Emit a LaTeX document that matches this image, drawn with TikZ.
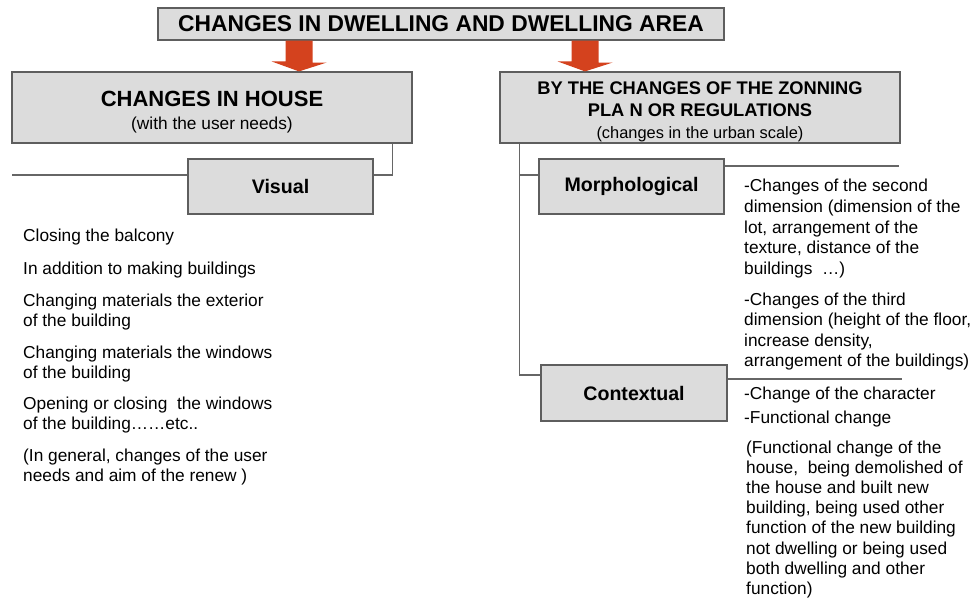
\documentclass[tikz,border=0pt]{standalone}
\usepackage{fontspec}
\setmainfont{Liberation Sans}
\usetikzlibrary{calc}
\definecolor{boxfill}{HTML}{DCDCDC}
\definecolor{boxline}{HTML}{5E5E5E}
\definecolor{arrowred}{HTML}{D4421E}
\definecolor{connline}{HTML}{666666}
\begin{document}
\begin{tikzpicture}[x=1pt,y=-1pt,
  box/.style={draw=boxline, line width=1.2pt, fill=boxfill, inner sep=0pt, align=center},
  conn/.style={draw=connline, line width=1.3pt},
  body/.style={anchor=base west, align=left, inner sep=0pt, font=\fontsize{17.3}{20.6}\selectfont},
  lbl/.style={font=\fontsize{19.6}{22}\selectfont\bfseries}]
\useasboundingbox[fill=white] (0,0) rectangle (973,609);

% boxes
\node[box, minimum width=566pt, minimum height=32pt, font=\fontsize{22.8}{24}\selectfont\bfseries] (title) at (441,24) {CHANGES IN DWELLING AND DWELLING AREA};
\node[box, minimum width=400pt, minimum height=71pt, font=\fontsize{17.3}{23}\selectfont] (house) at (212,107.5)
  {\rule{0pt}{25pt}{\fontsize{22}{23}\selectfont\bfseries CHANGES IN HOUSE}\\(with the user needs)};
\node[box, minimum width=400pt, minimum height=71pt, font=\fontsize{18.3}{22}\selectfont\bfseries] (zoning) at (700,107.5)
  {\rule{0pt}{21pt}BY THE CHANGES OF THE ZONNING\\PLA N OR REGULATIONS\\{\mdseries\fontsize{16.4}{22}\selectfont(changes in the urban scale)}};
\node[box, lbl, minimum width=185pt, minimum height=55pt] (visual) at (280.5,186.5) {Visual};
\node[box, lbl, minimum width=185pt, minimum height=55pt] (morph) at (631.5,186.5) {Morphological};
\node[box, lbl, minimum width=186pt, minimum height=56pt] (context) at (634,393) {Contextual};

% block arrows
\coordinate (la) at (299,0);
\coordinate (ra) at (585,0);
\fill[arrowred] (la |- title.south) ++(-13.5,0) -- ++(27,0) -- ++(0,22) -- ++(14,0)
  -- (la |- house.north) -- ++(-27.5,-10) -- ++(14,0) -- cycle;
\fill[arrowred] (ra |- title.south) ++(-13.5,0) -- ++(27,0) -- ++(0,22) -- ++(14,0)
  -- (ra |- zoning.north) -- ++(-27.5,-10) -- ++(14,0) -- cycle;

% connectors, left
\coordinate (vl) at (12,175);
\draw[conn] (vl) -- (vl -| visual.west);
\draw[conn] (visual.east |- vl) -| ([xshift=-20pt]house.south east);

% connectors, right
\coordinate (zv) at ([xshift=20pt]zoning.south west);
\draw[conn] (zv) |- ([yshift=18pt]context.west);
\draw[conn] (zv |- vl) -- ([yshift=11.5pt]morph.west);
\coordinate (me) at (899,166);
\draw[conn] (me -| morph.east) -- (me);
\coordinate (ce) at (902,379);
\draw[conn] (ce -| context.east) -- (ce);

% left texts (base = baseline of the last line)
\node[body] (v1) at (23,242) {Closing the balcony};
\node[body] (v2) at (23,274) {In addition to making buildings};
\node[body] (v3) at (23,326.6) {Changing materials the exterior\\of the building};
\node[body] (v4) at (23,378.6) {Changing materials the windows\\of the building};
\node[body] (v5) at (23,429.6) {Opening or closing\ \ the windows\\of the building\dots\dots etc..};
\node[body] (v6) at (23,481.6) {(In general, changes of the user\\needs and aim of the renew )};

% right texts
\node[body] (m1) at (744,274.4) {-Changes of the second\\dimension (dimension of the\\lot, arrangement of the\\texture, distance of the\\buildings \ \dots)};
\node[body] (m2) at (744,366.8) {-Changes of the third\\dimension (height of the floor,\\increase density,\\arrangement of the buildings)};
\node[body] (c1) at (744,399) {-Change of the character};
\node[body] (c2) at (744,423) {-Functional change};
\node[body, font=\fontsize{17.3}{20.2}\selectfont] (c3) at (746,594.4) {(Functional change of the\\house,\ \ being demolished of\\the house and built new\\building, being used other\\function of the new building\\not dwelling or being used\\both dwelling and other\\function)};
\end{tikzpicture}
\end{document}
